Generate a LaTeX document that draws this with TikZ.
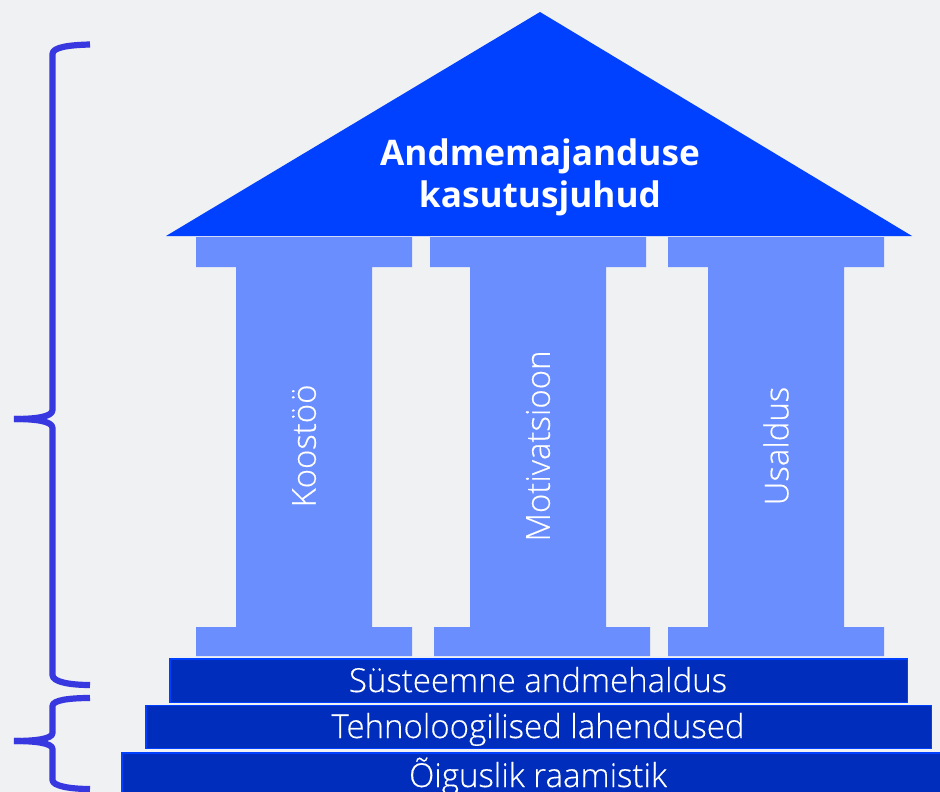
\documentclass[tikz,border=0pt]{standalone}
\usepackage{fontspec}
\setmainfont{Open Sans}
\newfontfamily\lightfont[FakeBold=0.35]{Open Sans Light}
\definecolor{bgc}{HTML}{EFF1F3}
\definecolor{roofc}{HTML}{0040FF}
\definecolor{pillarc}{HTML}{6B8EFF}
\definecolor{bandc}{HTML}{002DBB}
\definecolor{bracec}{HTML}{3838E0}
\tikzset{
  bandbox/.style={fill=bandc,draw=roofc,line width=1.5pt},
  bandtext/.style={text=white,font=\lightfont\fontsize{33}{36}\selectfont,inner sep=0pt,anchor=base},
  pillartext/.style={text=white,rotate=90,font=\lightfont\fontsize{33}{36}\selectfont,inner sep=0pt},
  bracepath/.style={draw=bracec,line width=6.2pt,line join=round},
}
\begin{document}
\begin{tikzpicture}[x=1pt,y=-1pt]
\useasboundingbox (0,0) rectangle (940,792);
\fill[bgc] (0,0) rectangle (940,792);
% roof
\coordinate (apex) at (540,12);
\coordinate (roofl) at (166,236);
\coordinate (roofr) at (912,236);
\fill[roofc] (apex) -- (roofl) -- (roofr) -- cycle;
\node[text=white,font=\bfseries\fontsize{35.2}{42}\selectfont,align=center,inner sep=0pt] (rooftext) at (540,177) {Andmemajanduse\\kasutusjuhud};
% pillars
\fill[pillarc] (196,237) rectangle (412,267) (236,267) rectangle (372,627) (196,627) rectangle (412,656);
\fill[pillarc] (430,237) rectangle (646,267) (470,267) rectangle (606,627) (434,627) rectangle (650,656);
\fill[pillarc] (668,237) rectangle (884,267) (708,267) rectangle (844,627) (668,627) rectangle (884,656);
\node[pillartext] (p1) at (304,446) {Koostöö};
\node[pillartext] (p2) at (538,446) {Motivatsioon};
\node[pillartext] (p3) at (776,446) {Usaldus};
% bands
\path[bandbox] (170,659) rectangle (907.5,702.5);
\node[bandtext] (b1) at (538,692) {Süsteemne andmehaldus};
\path[bandbox] (146,705.5) rectangle (931.5,748.5);
\node[bandtext] (b2) at (538,738) {Tehnoloogilised lahendused};
\path[bandbox] (122,753) rectangle (945,800);
\node[bandtext] (b3) at (538,787) {Õiguslik raamistik};
% braces
\coordinate (t1) at (90,44.5);
\coordinate (m1) at (14,419);
\coordinate (e1) at (90,685);
\coordinate (t2) at (90,698);
\coordinate (m2) at (14,741);
\coordinate (e2) at (90,789);
\draw[bracepath] (t1) .. controls (70,45) and (52.5,47) .. (52.5,54) -- (52.5,410)
  .. controls (52.5,417) and (35,419) .. (m1);
\draw[bracepath] (m1) .. controls (35,419) and (52.5,421) .. (52.5,428) -- (52.5,675)
  .. controls (52.5,682) and (70,685) .. (e1);
\draw[bracepath] (t2) .. controls (70,698) and (52.5,700) .. (52.5,706) -- (52.5,733)
  .. controls (52.5,739) and (35,741) .. (m2);
\draw[bracepath] (m2) .. controls (35,741) and (52.5,743) .. (52.5,749) -- (52.5,780)
  .. controls (52.5,786) and (70,789) .. (e2);
\end{tikzpicture}
\end{document}
